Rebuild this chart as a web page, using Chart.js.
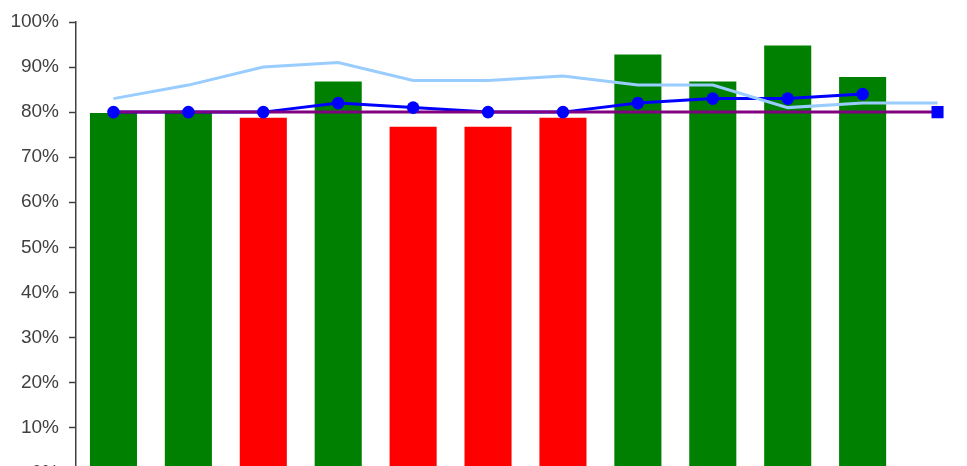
<!DOCTYPE html>
<html>
<head>
<meta charset="utf-8">
<script src="https://cdn.jsdelivr.net/npm/chart.js@4"></script>
<style>
  html, body { margin: 0; padding: 0; background: #fff; overflow: hidden; }
  #wrap { width: 985px; height: 494px; }
</style>
</head>
<body>
<div id="wrap"><canvas id="c" width="985" height="494"></canvas></div>
<script>
// Twelve periods; the last one only carries the target marker and the trend line.
const categories = ['1', '2', '3', '4', '5', '6', '7', '8', '9', '10', '11', '12'];

// Actual result per period (%)
const actual = [80, 80, 79, 87, 77, 77, 79, 93, 87, 95, 88, null];

// Rolling average (%)
const average = [80, 80, 80, 82, 81, 80, 80, 82, 83, 83, 84, null];

// Benchmark (%)
const benchmark = [83, 86, 90, 91, 87, 87, 88, 86, 86, 81, 82, 82];

// Target level (%)
const target = [80, 80, 80, 80, 80, 80, 80, 80, 80, 80, 80, 80];

// Target marker at the end of the target line
const targetEnd = [null, null, null, null, null, null, null, null, null, null, null, 80];

const yTicks = [0, 10, 20, 30, 40, 50, 60, 70, 80, 90, 100];

const GREEN = '#008000';
const RED = '#ff0000';
const barColors = actual.map((v, i) => (v !== null && v >= target[i]) ? GREEN : RED);

new Chart(document.getElementById('c'), {
  data: {
    labels: categories,
    datasets: [
      {
        type: 'line',
        data: targetEnd,
        order: 1,
        showLine: false,
        pointStyle: 'rect',
        pointRadius: 8.5,
        pointBackgroundColor: '#0000ff',
        pointBorderColor: '#0000ff',
        pointBorderWidth: 0
      },
      {
        type: 'line',
        data: average,
        order: 2,
        showLine: false,
        pointRadius: 6.3,
        pointBackgroundColor: '#0000ff',
        pointBorderColor: '#0000ff',
        pointBorderWidth: 0
      },
      {
        type: 'line',
        data: target,
        order: 5,
        borderColor: '#800080',
        borderWidth: 3,
        pointRadius: 0,
        tension: 0
      },
      {
        type: 'line',
        data: benchmark,
        order: 6,
        borderColor: '#99ccff',
        borderWidth: 3,
        pointRadius: 0,
        tension: 0
      },
      {
        type: 'line',
        data: average,
        order: 7,
        borderColor: '#0000ff',
        borderWidth: 3,
        pointRadius: 0,
        tension: 0
      },
      {
        type: 'bar',
        data: actual,
        order: 10,
        backgroundColor: barColors,
        borderColor: 'rgba(255,255,255,0.35)',
        borderWidth: 1,
        categoryPercentage: 1,
        barPercentage: 0.655
      }
    ]
  },
  options: {
    responsive: false,
    animation: false,
    layout: { padding: { top: 22, right: 10, bottom: 10, left: 0 } },
    plugins: { legend: { display: false }, tooltip: { enabled: false } },
    scales: {
      x: {
        display: false,
        offset: true
      },
      y: {
        min: 0,
        max: 100,
        afterBuildTicks: (axis) => { axis.ticks = yTicks.map(v => ({ value: v })); },
        afterFit: (axis) => { axis.width = 76; },
        grid: {
          display: true,
          drawOnChartArea: false,
          drawTicks: true,
          tickLength: 7,
          tickColor: '#404040',
          tickWidth: 1.5
        },
        border: { display: true, color: '#404040', width: 1.5 },
        ticks: {
          padding: 10,
          color: '#404040',
          font: { family: 'Liberation Sans, Arial, sans-serif', size: 19 },
          callback: (v) => v + '%'
        }
      }
    }
  }
});
</script>
</body>
</html>
